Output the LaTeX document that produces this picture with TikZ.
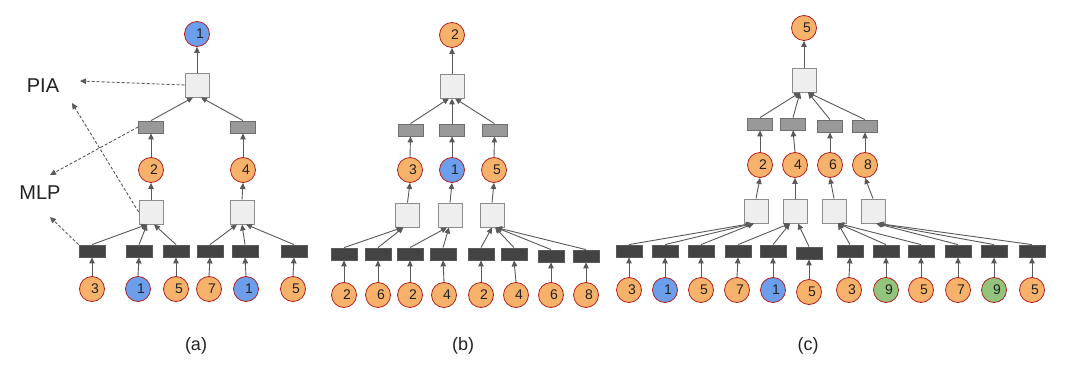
\documentclass[tikz,border=0pt]{standalone}
\usepackage{fontspec}
\setmainfont{Liberation Sans}
\usetikzlibrary{arrows.meta}
\definecolor{orangefill}{HTML}{F6B26B}
\definecolor{bluefill}{HTML}{6D9EEB}
\definecolor{greenfill}{HTML}{93C47D}
\definecolor{circred}{HTML}{B01E1E}
\definecolor{sqfill}{HTML}{EEEEEE}
\definecolor{sqdraw}{HTML}{8C8C8C}
\definecolor{midfill}{HTML}{999999}
\definecolor{middraw}{HTML}{6E6E6E}
\definecolor{darkfill}{HTML}{434343}
\definecolor{darkdraw}{HTML}{5A5A5A}
\definecolor{linegray}{HTML}{595959}
\definecolor{txtgray}{HTML}{222222}
\newcommand{\dg}[1]{\kern6pt#1}
\begin{document}
\begin{tikzpicture}[x=1pt,y=-1pt,
  circ/.style={circle, draw=circred, line width=0.8pt, minimum size=25pt, inner sep=0pt, text=txtgray, font=\fontsize{14}{14}\selectfont},
  orc/.style={circ, fill=orangefill},
  blc/.style={circ, fill=bluefill},
  grc/.style={circ, fill=greenfill},
  sq/.style={rectangle, draw=sqdraw, fill=sqfill, line width=0.9pt, minimum width=24pt, minimum height=24pt, inner sep=0pt},
  midbox/.style={rectangle, draw=middraw, fill=midfill, line width=0.8pt, minimum width=25pt, minimum height=12pt, inner sep=0pt},
  darkbox/.style={rectangle, draw=darkdraw, fill=darkfill, line width=0.8pt, minimum width=26pt, minimum height=12pt, inner sep=0pt},
  conn/.style={draw=linegray, line width=0.9pt, -{Triangle[length=6pt,width=5.5pt]}},
  dconn/.style={conn, dash pattern=on 3pt off 2pt},
  lbl/.style={text=txtgray, font=\fontsize{18}{18}\selectfont},
  side/.style={text=txtgray, font=\fontsize{20}{20}\selectfont},
]
\useasboundingbox (0,0) rectangle (1081,374);
\fill[white] (0,0) rectangle (1081,374);

% ================= (a) =================
\node[blc] (aT) at (197,34) {\dg{1}};
\node[sq] (aS) at (197,85) {};
\node[midbox] (aG1) at (151,127) {};
\node[midbox] (aG2) at (243,127) {};
\node[orc] (aC1) at (151,170) {\dg{2}};
\node[orc] (aC2) at (243,170) {\dg{4}};
\node[sq] (aS1) at (151,212) {};
\node[sq] (aS2) at (242,212) {};
\foreach \x [count=\i] in {92,139,176,210,245,294} {
  \node[darkbox] (aD\i) at (\x,251) {};
}
\node[orc] (aB1) at (92,289) {\dg{3}};
\node[blc] (aB2) at (138,289) {\dg{1}};
\node[orc] (aB3) at (176,289) {\dg{5}};
\node[orc] (aB4) at (209,289) {\dg{7}};
\node[blc] (aB5) at (246,289) {\dg{1}};
\node[orc] (aB6) at (293,289) {\dg{5}};
\foreach \i in {1,...,6} { \draw[conn] (aB\i.north) -- (aD\i.south); }
\draw[conn] (aD1.north) -- ([xshift=-4pt]aS1.south);
\draw[conn] (aD2.north) -- ([xshift=-4pt]aS1.south);
\draw[conn] (aD3.north) -- ([xshift=3pt]aS1.south);
\draw[conn] (aD4.north) -- ([xshift=-5pt]aS2.south);
\draw[conn] (aD5.north) -- ([xshift=0pt]aS2.south);
\draw[conn] (aD6.north) -- ([xshift=4pt]aS2.south);
\draw[conn] (aS1.north) -- (aC1.south);
\draw[conn] (aS2.north) -- (aC2.south);
\draw[conn] (aC1.north) -- (aG1.south);
\draw[conn] (aC2.north) -- (aG2.south);
\draw[conn] (aG1.north) -- ([xshift=-4pt]aS.south);
\draw[conn] (aG2.north) -- ([xshift=4pt]aS.south);
\draw[conn] (aS.north) -- (aT.south);

\node[side] (pia) at (43,86) {PIA};
\node[side] (mlp) at (40,193) {MLP};
\coordinate (piaA) at (80,81);
\coordinate (piaB) at (72,103);
\coordinate (mlpA) at (50,175);
\coordinate (mlpB) at (50,217);
\draw[dconn] (aS.west) -- (piaA);
\draw[dconn] (aS1.west) -- (piaB);
\draw[dconn] (aG1.west) -- (mlpA);
\draw[dconn] (aD1.north west) -- (mlpB);

\node[lbl] (la) at (196,346) {(a)};

% ================= (b) =================
\node[orc] (bT) at (452,35) {\dg{2}};
\node[sq] (bS) at (452,86) {};
\node[midbox] (bG1) at (410.5,130) {};
\node[midbox] (bG2) at (452,130) {};
\node[midbox] (bG3) at (494.5,130) {};
\node[orc] (bC1) at (410,170) {\dg{3}};
\node[blc] (bC2) at (452,170) {\dg{1}};
\node[orc] (bC3) at (494,170) {\dg{5}};
\node[sq] (bS1) at (407.5,215) {};
\node[sq] (bS2) at (450,215) {};
\node[sq] (bS3) at (492,215) {};
\foreach \x/\y [count=\i] in {344/254,378/254,410/254,443/254,481/254,514/254,551/256,586/256} {
  \node[darkbox] (bD\i) at (\x,\y) {};
}
\foreach \x/\d [count=\i] in {344/2,378/6,410/2,444/4,481/2,516/4,551/6,586/8} {
  \node[orc] (bB\i) at (\x,295) {\dg{\d}};
}
\foreach \i in {1,...,8} { \draw[conn] (bB\i.north) -- (bD\i.south); }
\draw[conn] (bD1.north) -- ([xshift=-5pt]bS1.south);
\draw[conn] (bD2.north) -- ([xshift=-4pt]bS1.south);
\draw[conn] (bD3.north) -- ([xshift=-3pt]bS2.south);
\draw[conn] (bD4.north) -- ([xshift=-1pt]bS2.south);
\draw[conn] (bD5.north) -- ([xshift=0pt]bS3.south);
\draw[conn] (bD6.north) -- ([xshift=3pt]bS3.south);
\draw[conn] (bD7.north) -- ([xshift=4pt]bS3.south);
\draw[conn] (bD8.north) -- ([xshift=4pt]bS3.south);
\foreach \i in {1,2,3} {
  \draw[conn] (bS\i.north) -- (bC\i.south);
  \draw[conn] (bC\i.north) -- (bG\i.south);
}
\draw[conn] (bG1.north) -- ([xshift=-3pt]bS.south);
\draw[conn] (bG2.north) -- ([xshift=0pt]bS.south);
\draw[conn] (bG3.north) -- ([xshift=3pt]bS.south);
\draw[conn] (bS.north) -- (bT.south);

\node[lbl] (lb) at (463,346) {(b)};

% ================= (c) =================
\node[orc] (cT) at (804,28) {\dg{5}};
\node[sq] (cS) at (804,80) {};
\node[midbox] (cG1) at (760,124) {};
\node[midbox] (cG2) at (793,124) {};
\node[midbox] (cG3) at (830,126) {};
\node[midbox] (cG4) at (865,126) {};
\node[orc] (cC1) at (760,165) {\dg{2}};
\node[orc] (cC2) at (795,165) {\dg{4}};
\node[orc] (cC3) at (830,165) {\dg{6}};
\node[orc] (cC4) at (865,165) {\dg{8}};
\node[sq] (cS1) at (756,211) {};
\node[sq] (cS2) at (795,211) {};
\node[sq] (cS3) at (834,211) {};
\node[sq] (cS4) at (873,211) {};
\foreach \x/\y [count=\i] in {629/251,665/251,701/251,738/251,773/251,809/253,850/251,886/251,921/251,958/251,994/251,1032/251} {
  \node[darkbox] (cD\i) at (\x,\y) {};
}
\node[orc] (cB1) at (629,290) {\dg{3}};
\node[blc] (cB2) at (665,290) {\dg{1}};
\node[orc] (cB3) at (701,290) {\dg{5}};
\node[orc] (cB4) at (737,290) {\dg{7}};
\node[blc] (cB5) at (773,290) {\dg{1}};
\node[orc] (cB6) at (809,292) {\dg{5}};
\node[orc] (cB7) at (849,290) {\dg{3}};
\node[grc] (cB8) at (886,290) {\dg{9}};
\node[orc] (cB9) at (921,290) {\dg{5}};
\node[orc] (cB10) at (958,290) {\dg{7}};
\node[grc] (cB11) at (994,290) {\dg{9}};
\node[orc] (cB12) at (1032,290) {\dg{5}};
\foreach \i in {1,...,12} { \draw[conn] (cB\i.north) -- (cD\i.south); }
\draw[conn] (cD1.north) -- ([xshift=-4pt]cS1.south);
\draw[conn] (cD2.north) -- ([xshift=-3pt]cS1.south);
\draw[conn] (cD3.north) -- ([xshift=-2pt]cS1.south);
\draw[conn] (cD4.north) -- ([xshift=-5pt]cS2.south);
\draw[conn] (cD5.north) -- ([xshift=-5pt]cS2.south);
\draw[conn] (cD6.north) -- ([xshift=3pt]cS2.south);
\draw[conn] (cD7.north) -- ([xshift=4pt]cS3.south);
\draw[conn] (cD8.north) -- ([xshift=4pt]cS3.south);
\draw[conn] (cD9.north) -- ([xshift=4pt]cS3.south);
\draw[conn] (cD10.north) -- ([xshift=3pt]cS4.south);
\draw[conn] (cD11.north) -- ([xshift=4pt]cS4.south);
\draw[conn] (cD12.north) -- ([xshift=5pt]cS4.south);
\foreach \i in {1,...,4} {
  \draw[conn] (cS\i.north) -- (cC\i.south);
  \draw[conn] (cC\i.north) -- (cG\i.south);
}
\draw[conn] (cG1.north) -- ([xshift=-4pt]cS.south);
\draw[conn] (cG2.north) -- ([xshift=-4pt]cS.south);
\draw[conn] (cG3.north) -- ([xshift=4pt]cS.south);
\draw[conn] (cG4.north) -- ([xshift=4pt]cS.south);
\draw[conn] (cS.north) -- (cT.south);

\node[lbl] (lc) at (808,346) {(c)};
\end{tikzpicture}
\end{document}
